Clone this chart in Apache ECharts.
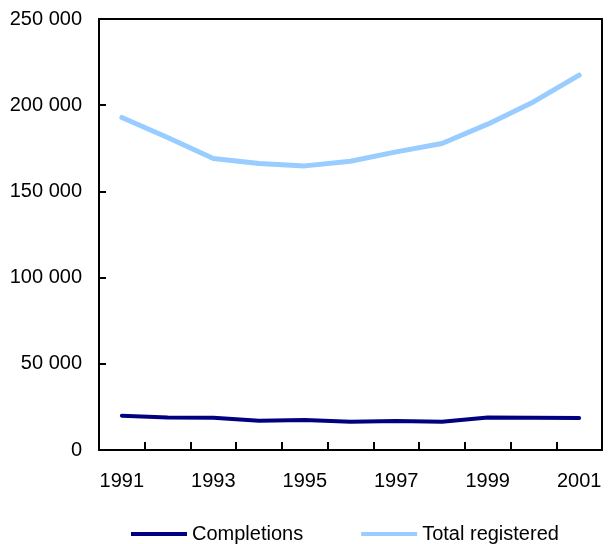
<!DOCTYPE html>
<html>
<head>
<meta charset="utf-8">
<script src="https://cdn.jsdelivr.net/npm/echarts@6/dist/echarts.min.js"></script>
<style>
html,body{margin:0;padding:0;background:#fff;}
#chart{width:608px;height:544px;}
</style>
</head>
<body>
<div id="chart"></div>
<script>
const years = ['1991','1992','1993','1994','1995','1996','1997','1998','1999','2000','2001'];
const completions = [19900, 18900, 18700, 17000, 17400, 16400, 16800, 16400, 18900, 18700, 18500];
const totalRegistered = [192900, 181300, 169100, 166200, 164800, 167500, 172900, 177800, 189000, 201900, 217400];
const yTicks = [0, 50000, 100000, 150000, 200000, 250000];

const font = '"Liberation Sans", Arial, Helvetica, sans-serif';
function fmt(v){ return String(v).replace(/\B(?=(\d{3})+(?!\d))/g, ' '); }

const chart = echarts.init(document.getElementById('chart'), null, {renderer:'canvas'});
chart.setOption({
  animation: false,
  backgroundColor: '#fff',
  textStyle: {fontFamily: font, color: '#000'},
  grid: {left: 99, right: 6, top: 19, bottom: 94, show: false},
  xAxis: [{
    type: 'category',
    data: years,
    boundaryGap: true,
    axisLine: {show: true, lineStyle: {color: '#000', width: 2}},
    axisTick: {show: true, inside: true, length: 8, interval: 0, lineStyle: {color: '#000', width: 2}},
    axisLabel: {interval: 1, color: '#000', fontSize: 20, fontFamily: font, margin: 21},
    splitLine: {show: false}
  }, {
    type: 'category',
    data: years,
    position: 'top',
    axisLine: {show: true, onZero: false, lineStyle: {color: '#000', width: 2}},
    axisTick: {show: false},
    axisLabel: {show: false},
    splitLine: {show: false}
  }],
  yAxis: [{
    type: 'value',
    position: 'left',
    min: yTicks[0],
    max: yTicks[yTicks.length-1],
    interval: yTicks[1]-yTicks[0],
    axisLine: {show: true, onZero: false, lineStyle: {color: '#000', width: 2}},
    axisTick: {show: true, inside: true, length: 7, lineStyle: {color: '#000', width: 2}},
    axisLabel: {color: '#000', fontSize: 20, fontFamily: font, margin: 17, formatter: fmt},
    splitLine: {show: false}
  }, {
    type: 'value',
    min: yTicks[0],
    max: yTicks[yTicks.length-1],
    interval: yTicks[1]-yTicks[0],
    position: 'right',
    axisLine: {show: true, onZero: false, lineStyle: {color: '#000', width: 2}},
    axisTick: {show: false},
    axisLabel: {show: false},
    splitLine: {show: false}
  }],
  legend: {
    left: 131, top: 524, padding: 0,
    itemWidth: 56, itemHeight: 4, itemGap: 58,
    icon: 'rect',
    textStyle: {fontSize: 20, fontFamily: font, color: '#000'},
    data: ['Completions', 'Total registered']
  },
  series: [
    {name: 'Completions', type: 'line', data: completions, symbol: 'none',
     lineStyle: {color: '#000080', width: 4, cap: 'round', join: 'round'}, itemStyle: {color: '#000080'}},
    {name: 'Total registered', type: 'line', data: totalRegistered, symbol: 'none',
     lineStyle: {color: '#99CCFF', width: 5, cap: 'round', join: 'round'}, itemStyle: {color: '#99CCFF'}}
  ]
});
</script>
</body>
</html>
